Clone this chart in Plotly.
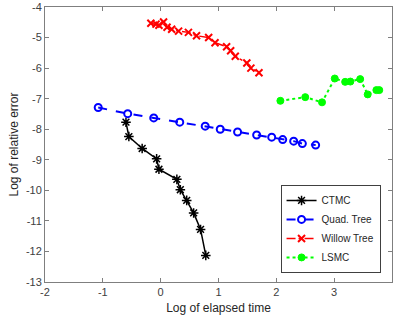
import plotly.graph_objects as go

ctmc_x = [-0.60, -0.55, -0.32, -0.07, -0.03, 0.28, 0.34, 0.45, 0.57, 0.69, 0.78]
ctmc_y = [-7.77, -8.24, -8.63, -8.97, -9.31, -9.64, -9.98, -10.33, -10.74, -11.28, -12.13]

quad_x = [-1.08, -0.57, -0.12, 0.33, 0.77, 1.03, 1.33, 1.66, 1.92, 2.11, 2.30, 2.45, 2.68]
quad_y = [-7.29, -7.49, -7.63, -7.77, -7.90, -8.00, -8.09, -8.19, -8.26, -8.34, -8.39, -8.47, -8.52]

willow_x = [-0.17, -0.08, -0.03, 0.05, 0.11, 0.19, 0.31, 0.48, 0.62, 0.83, 0.94, 1.14, 1.21, 1.29, 1.49, 1.56, 1.70]
willow_y = [-4.53, -4.56, -4.60, -4.49, -4.66, -4.73, -4.79, -4.83, -4.94, -5.00, -5.17, -5.30, -5.43, -5.61, -5.83, -6.00, -6.15]

lsmc_x = [2.07, 2.50, 2.79, 3.01, 3.19, 3.28, 3.45, 3.58, 3.73, 3.78]
lsmc_y = [-7.07, -6.95, -7.12, -6.34, -6.45, -6.44, -6.36, -6.86, -6.72, -6.72]

x_ticks = [-2, -1, 0, 1, 2, 3, 4]
y_ticks = [-13, -12, -11, -10, -9, -8, -7, -6, -5, -4]

fig = go.Figure()
fig.add_trace(go.Scatter(x=ctmc_x, y=ctmc_y, mode="lines+markers", name="CTMC",
                         line=dict(color="black", width=1.5),
                         marker=dict(symbol="asterisk-open", size=8, color="black",
                                     line=dict(color="black", width=1.5))))
fig.add_trace(go.Scatter(x=quad_x, y=quad_y, mode="lines+markers", name="Quad. Tree",
                         line=dict(color="#0000ff", width=2, dash="dash"),
                         marker=dict(symbol="circle-open", size=7, color="#0000ff",
                                     line=dict(color="#0000ff", width=2))))
fig.add_trace(go.Scatter(x=willow_x, y=willow_y, mode="lines+markers", name="Willow Tree",
                         line=dict(color="#ff0000", width=1.5, dash="dashdot"),
                         marker=dict(symbol="x-thin-open", size=7, color="#ff0000",
                                     line=dict(color="#ff0000", width=2))))
fig.add_trace(go.Scatter(x=lsmc_x, y=lsmc_y, mode="lines+markers", name="LSMC",
                         line=dict(color="#00ff00", width=2, dash="dot"),
                         marker=dict(symbol="circle", size=7, color="#00ff00",
                                     line=dict(color="#00ff00", width=1))))

axis_common = dict(showgrid=False, zeroline=False, showline=True, linecolor="#7f7f7f",
                   linewidth=1, mirror="allticks", ticks="inside", ticklen=4,
                   tickcolor="#7f7f7f", tickfont=dict(family="Liberation Sans, Arial", size=11, color="#404040"))

fig.update_layout(
    width=393, height=325,
    margin=dict(l=45, r=1, t=7, b=43),
    paper_bgcolor="white", plot_bgcolor="white",
    font=dict(family="Liberation Sans, Arial", size=11, color="#262626"),
    xaxis=dict(range=[-2, 4], tickvals=x_ticks, ticktext=[str(v) for v in x_ticks],
               title=dict(text="Log of elapsed time", font=dict(size=12, color="#262626"), standoff=6),
               **axis_common),
    yaxis=dict(range=[-13, -4], tickvals=y_ticks, ticktext=[str(v) for v in y_ticks],
               title=dict(text="Log of relative error", font=dict(size=12, color="#262626"), standoff=4),
               **axis_common),
    legend=dict(x=0.967, y=0.033, xanchor="right", yanchor="bottom",
                bgcolor="white", bordercolor="#404040", borderwidth=1,
                font=dict(size=10, color="#262626"), tracegroupgap=0,
                itemwidth=30),
    showlegend=True,
)

fig.write_html("out.html")
